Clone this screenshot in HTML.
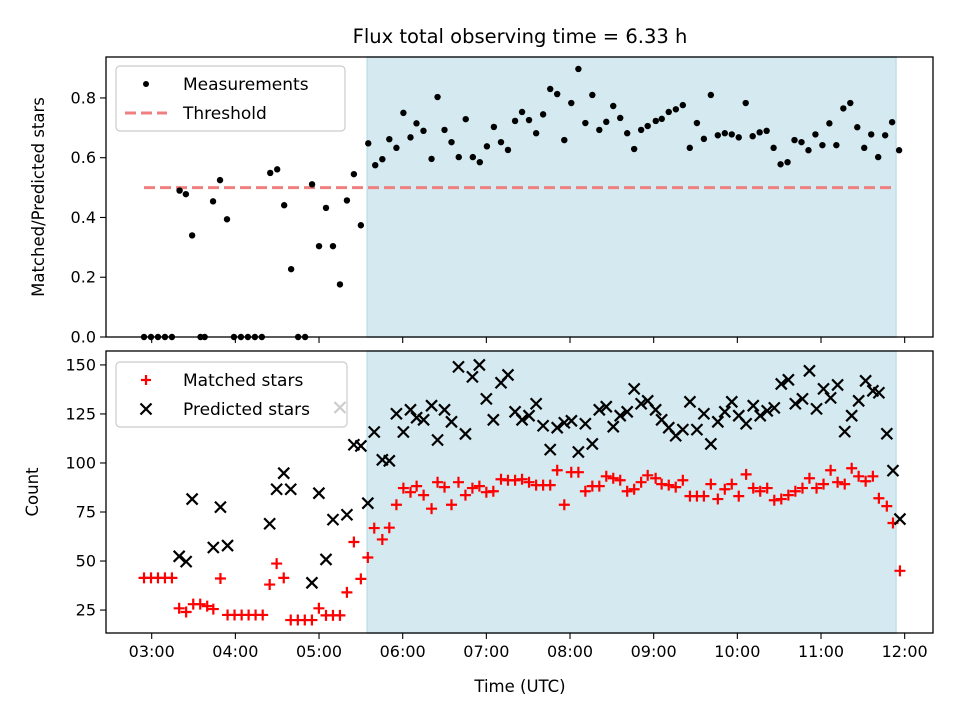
<!DOCTYPE html>
<html><head><meta charset="utf-8"><style>
body{margin:0;background:#fff}
svg{display:block;font-family:"DejaVu Sans","Liberation Sans",sans-serif}
</style></head><body>
<svg id="chart" width="960" height="720" viewBox="0 0 960 720" xmlns="http://www.w3.org/2000/svg"></svg>
<script>
// Times in minutes after 03:00 UTC
const ratioTimes=[-5.5,-0.5,4.5,9.5,14.5,20,24.5,29,35,38,44,49,54,59,64,69,74,79,85,90,95,100,105,110,115,120,125,130,135,140,145,150,155.3,160.3,165.4,170.4,175.5,180.5,185.6,189.9,194.9,200.7,205,210,215,220.2,225.2,230.3,235.3,240.4,245.4,250.5,255.5,260.6,265.6,270.6,275.7,280.7,285.8,290.8,295.9,300.9,306,311,316,321,326,331,336,341,346,351,355.7,361.5,365.8,370.8,375.9,380.9,385.9,391,396,401,406,411,416,421,426,431,436,441,446,451,456,461,466,471,476,481,486,491,496,501,506,511,516,521,526,531,536];
const ratioValues=[0,0,0,0,0,0.49,0.478,0.34,0,0,0.454,0.525,0.394,0,0,0,0,0,0.549,0.561,0.441,0.227,0,0,0.511,0.304,0.432,0.304,0.176,0.457,0.545,0.374,0.648,0.575,0.595,0.662,0.633,0.75,0.668,0.715,0.69,0.596,0.803,0.693,0.652,0.602,0.729,0.602,0.585,0.638,0.703,0.652,0.626,0.723,0.753,0.726,0.682,0.745,0.83,0.813,0.659,0.783,0.897,0.716,0.81,0.693,0.72,0.773,0.733,0.682,0.629,0.693,0.706,0.723,0.73,0.753,0.762,0.776,0.633,0.716,0.663,0.81,0.675,0.682,0.678,0.668,0.783,0.672,0.685,0.69,0.633,0.578,0.585,0.659,0.652,0.625,0.678,0.642,0.715,0.642,0.765,0.783,0.702,0.633,0.678,0.602,0.675,0.719,0.625];
const threshold=0.5;
const matchedTimes=[-5.5,-0.5,4.5,9.5,14.5,19.7,24.7,29.8,34.8,39.8,44.2,49.3,54.4,59.4,64.5,69.5,74.5,79.6,84.6,89.6,94.7,99.7,104.8,109.8,114.9,119.9,125,130,135,140,145,150,155,159.6,165.4,170.4,175.5,180.5,185.6,190,195,200.7,205,210,215,220,225,230,235,240,245,250.5,255.5,260.6,265.6,270.6,275.7,280.7,285.8,290.8,295.9,300.9,306,311,316,321,326,331,336,341,346,351,355.7,361.4,365.7,370.8,375.8,380.9,386,391,396,401,406,411,416,421,426.3,431.4,436.4,441.4,446.5,451.5,456.6,461.6,466.7,471.7,476.8,481.8,486.9,491.9,497,502,507,512,517.2,521.5,527.2,531.6,536.6];
const matchedValues=[41.4,41.4,41.4,41.4,41.4,25.9,24,28,28,27,25.5,41.1,22.5,22.5,22.5,22.5,22.5,22.5,38,48.7,41.4,19.9,19.9,19.9,19.9,25.9,22.3,22.3,22.3,34,59.7,40.9,51.8,66.8,61,67,78.7,87.2,85.1,88.2,83.6,76.7,90.2,87.7,78.7,90.2,83.6,87.2,88.2,85.1,85.6,91.7,91.2,91.2,91.7,90.2,88.7,88.7,88.7,96.3,78.7,95.3,95.3,85.6,88.2,88.2,93.2,92.2,91.2,85.6,86.6,90.2,93.7,92.2,89.2,88.7,87.7,91.2,83.1,83.1,83.1,89.2,81.6,86.6,89.2,83.1,94.2,87.2,85.6,87.2,81,81.6,83.6,85.6,87.2,92.2,87.2,89.2,96.3,90.2,89.2,97.3,93.2,90.7,93.2,82,78,69.4,45];
const predictedTimes=[19.7,24.7,29,44.2,49.3,54.4,84.6,89.6,94.7,99.7,114.9,119.9,125,130,135,140,145,150,155,159.6,165.4,170.4,175.5,180.5,185.6,190,195,200.7,205,210,215,220,225,230,235,240,245,250.5,255.5,260.6,265.6,270.6,275.7,280.7,285.8,290.8,295.9,301,306,311,316,321,326,331,336,341,346,351,355.7,361.4,365.7,370.8,375.8,380.9,386,391,396,401,406,411,416,421,426.3,431.4,436.4,441.4,446.5,451.5,456.6,461.6,466.7,471.7,476.8,481.8,486.9,491.9,497,502,507,512,517.2,521.5,527.2,531.6,536.6];
const predictedValues=[52.4,49.7,81.6,56.9,77.5,57.9,69,86.6,94.8,86.6,38.9,84.6,50.8,71.1,128.3,73.6,109.3,108.7,79.5,115.8,101.6,101.1,125.1,115.8,127.1,123.1,122,129.2,111.7,127.1,121,149,114.8,143.9,150,132.7,122,140.9,144.9,126.1,122,124.1,130.2,119,106.8,118,120.5,121.5,105.6,120,109.7,127.1,128.7,118.5,124.1,126.1,137.8,130.2,131.7,127.1,122,118,113.9,117,131.2,117,125.1,109.7,121,126.1,131.2,124.1,120,129.2,124.1,126.6,128.1,140.3,142.4,130.2,132.7,147,127.6,137.8,133.2,139.8,116,124.1,131.7,141.9,136.8,135.8,114.9,96.1,71.4];
const xTicks=[0,60,120,180,240,300,360,420,480,540];
const xTickLabels=["03:00","04:00","05:00","06:00","07:00","08:00","09:00","10:00","11:00","12:00"];
const topTicks=[0,0.2,0.4,0.6,0.8];
const topTickLabels=["0.0","0.2","0.4","0.6","0.8"];
const botTicks=[25,50,75,100,125,150];
const botTickLabels=["25","50","75","100","125","150"];
const shadeStart=154.5, shadeEnd=533.8;
const thrStart=-5.5, thrEnd=533.8;

const NS="http://www.w3.org/2000/svg";
const svg=document.getElementById('chart');
function mk(tag,attrs,parent,text){const e=document.createElementNS(NS,tag);for(const k in attrs)e.setAttribute(k,attrs[k]);if(text!==undefined)e.textContent=text;(parent||svg).appendChild(e);return e;}
const L=106,R=933;
const X=m=>151.7+1.3944*m;
const T1=57,B1=337,T2=351,B2=633;
const yTop=v=>B1-v/0.937*(B1-T1);
const yBot=c=>B2-(c-13.3)/(157.1-13.3)*(B2-T2);

function panel(name,top,bot,yf,ticks,labels){
  const g=mk('g',{});
  
  
  const sh=mk('rect',{x:X(shadeStart),y:top,width:X(shadeEnd)-X(shadeStart),height:bot-top,fill:'#d4eaf0',stroke:'#bfe0ea','stroke-width':1.5},g);
  
  
  ticks.forEach((t,i)=>{
    const y=yf(t);
    const tk=mk('line',{x1:L-6,x2:L,y1:y,y2:y,stroke:'#000','stroke-width':1.1},g);
    
    
    const tl=mk('text',{x:L-10,y:y+5.5,'text-anchor':'end','font-size':16},g,labels[i]);
    
    
  });
  xTicks.forEach(t=>{
    const tk=mk('line',{x1:X(t),x2:X(t),y1:bot,y2:bot+6,stroke:'#000','stroke-width':1.1},g);
    
    
  });
  return g;
}
const g1=panel('ratio-panel',T1,B1,yTop,topTicks,topTickLabels);
const g2=panel('count-panel',T2,B2,yBot,botTicks,botTickLabels);

const th=mk('line',{x1:X(thrStart),x2:X(thrEnd),y1:yTop(threshold),y2:yTop(threshold),stroke:'#f08080','stroke-width':3,'stroke-dasharray':'11 5'},g1);


ratioTimes.forEach((t,i)=>{
  const c=mk('circle',{cx:X(t),cy:yTop(ratioValues[i]),r:3.2,fill:'#000'},g1);
  
  
});
function plus(x,y,g,col,s){const p=mk('path',{d:`M${x-s} ${y}H${x+s}M${x} ${y-s}V${y+s}`,stroke:col,'stroke-width':2.2,fill:'none'},g);return p;}
function cross(x,y,g,col,s){const p=mk('path',{d:`M${x-s} ${y-s}L${x+s} ${y+s}M${x-s} ${y+s}L${x+s} ${y-s}`,stroke:col,'stroke-width':2.2,fill:'none'},g);return p;}
matchedTimes.forEach((t,i)=>{
  const p=plus(X(t),yBot(matchedValues[i]),g2,'#ff0000',5.5);
  
  
});
predictedTimes.forEach((t,i)=>{
  const p=cross(X(t),yBot(predictedValues[i]),g2,'#000',5.5);
  
  
});
[[T1,B1,'ratio-axes-frame'],[T2,B2,'count-axes-frame']].forEach(a=>{
  const f=mk('rect',{x:L,y:a[0],width:R-L,height:a[1]-a[0],fill:'none',stroke:'#000','stroke-width':1.3});
  
  
});
xTicks.forEach((t,i)=>{
  const tl=mk('text',{x:X(t),y:B2+24,'text-anchor':'middle','font-size':16},svg,xTickLabels[i]);
  
  
});
function legend(name,y0,w,items){
  const g=mk('g',{});
  
  
  mk('rect',{x:116,y:y0,width:w,height:65,rx:4,fill:'rgba(255,255,255,0.8)',stroke:'#cccccc','stroke-width':1.2},g);
  items.forEach((it,i)=>{
    const cy=y0+18+i*29;
    it.draw(146,cy,g);
    const tx=mk('text',{x:183,y:cy+6,'font-size':17},g,it.label);
    
    
  });
}
legend('ratio-legend',66,229,[
  {label:'Measurements',draw:(x,y,g)=>mk('circle',{cx:x,cy:y,r:3,fill:'#000'},g)},
  {label:'Threshold',draw:(x,y,g)=>mk('line',{x1:x-21,x2:x+21,y1:y,y2:y,stroke:'#f08080','stroke-width':3,'stroke-dasharray':'11 5'},g)}
]);
legend('count-legend',362,231,[
  {label:'Matched stars',draw:(x,y,g)=>plus(x,y,g,'#ff0000',5)},
  {label:'Predicted stars',draw:(x,y,g)=>cross(x,y,g,'#000',5.5)}
]);
const tt=mk('text',{x:520,y:43,'text-anchor':'middle','font-size':19.5},svg,'Flux total observing time = 6.33 h');


const xl=mk('text',{x:520,y:692,'text-anchor':'middle','font-size':16.5},svg,'Time (UTC)');


const yl1=mk('text',{x:0,y:0,'text-anchor':'middle','font-size':16.5,transform:'translate(44,197) rotate(-90)'},svg,'Matched/Predicted stars');


const yl2=mk('text',{x:0,y:0,'text-anchor':'middle','font-size':16.5,transform:'translate(38,492) rotate(-90)'},svg,'Count');


</script>
</body></html>
